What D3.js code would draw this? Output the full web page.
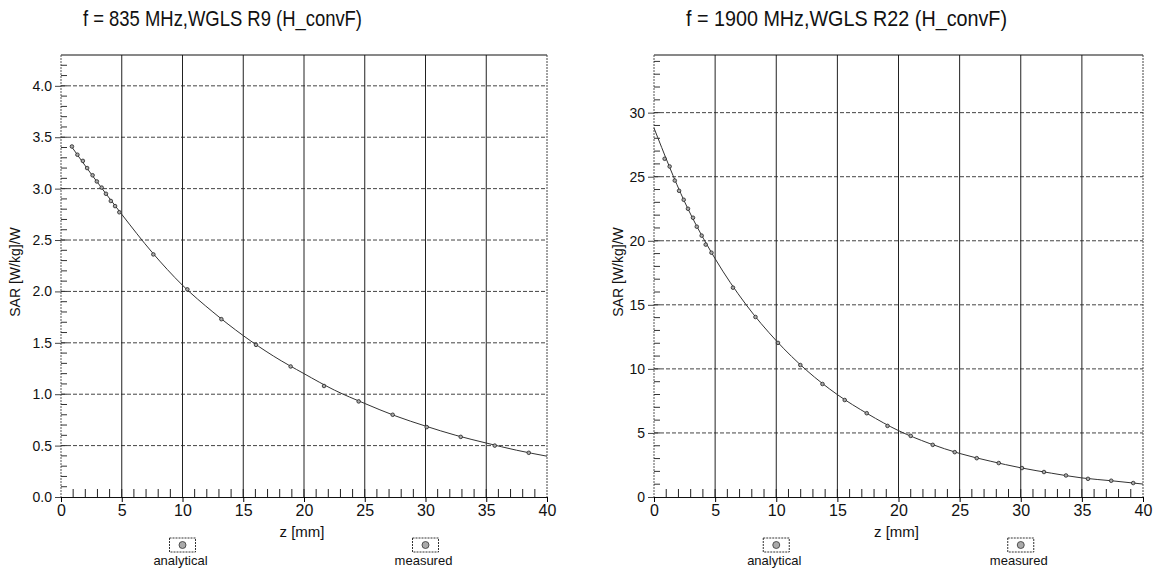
<!DOCTYPE html>
<html lang="en">
<head>
  <meta charset="UTF-8">
  <title>SAR versus depth, H_convF</title>
  <script src="https://d3js.org/d3.v7.min.js"></script>
  <style>
    body { margin: 0; background: #fff; }
    svg text {
      font-family: "Liberation Sans Narrow", "Arial Narrow", "Liberation Sans", Arial, sans-serif;
      fill: #111;
    }
  </style>
</head>
<body>
<svg id="chart" width="1158" height="576"></svg>
<script>
  // shared x axis
  const xTicks = [0, 5, 10, 15, 20, 25, 30, 35, 40];
  const legendLabels = ["analytical", "measured"];

  // 835 MHz panel
  const title835 = "f = 835 MHz,WGLS R9 (H_convF)";
  const yTicks835 = [0, 0.5, 1.0, 1.5, 2.0, 2.5, 3.0, 3.5, 4.0];
  const zAnalytical835 = [0.8, 2.5, 5, 7.5, 10, 12.5, 15, 17.5, 20, 22.5, 25, 27.5, 30, 32.5, 35, 37.5, 40];
  const sarAnalytical835 = [3.42, 3.14, 2.75, 2.38, 2.06, 1.80, 1.57, 1.37, 1.20, 1.04, 0.91, 0.79, 0.69, 0.60, 0.525, 0.455, 0.397];
  const zMeasured835 = [0.9, 1.35, 1.8, 2.15, 2.6, 2.95, 3.35, 3.7, 4.1, 4.45, 4.8, 7.6, 10.4, 13.2, 16.05, 18.9, 21.65, 24.5, 27.3, 30.1, 32.9, 35.7, 38.5];
  const sarMeasured835 = [3.41, 3.33, 3.27, 3.20, 3.13, 3.07, 3.01, 2.95, 2.88, 2.83, 2.77, 2.36, 2.02, 1.73, 1.48, 1.27, 1.08, 0.93, 0.80, 0.68, 0.585, 0.50, 0.43];

  // 1900 MHz panel
  const title1900 = "f = 1900 MHz,WGLS R22 (H_convF)";
  const yTicks1900 = [0, 5, 10, 15, 20, 25, 30];
  const zAnalytical1900 = [0, 2.5, 5, 7.5, 10, 12.5, 15, 17.5, 20, 22.5, 25, 27.5, 30, 32.5, 35, 37.5, 40];
  const sarAnalytical1900 = [28.8, 23.05, 18.6, 15.05, 12.2, 9.87, 7.99, 6.48, 5.18, 4.19, 3.40, 2.80, 2.28, 1.86, 1.49, 1.26, 1.01];
  const zMeasured1900 = [0.87, 1.28, 1.7, 2.05, 2.43, 2.78, 3.19, 3.5, 3.9, 4.23, 4.7, 6.46, 8.3, 10.14, 11.97, 13.78, 15.6, 17.4, 19.1, 21.0, 22.8, 24.6, 26.4, 28.2, 30.1, 31.9, 33.7, 35.5, 37.4, 39.2];
  const sarMeasured1900 = [26.4, 25.8, 24.7, 23.9, 23.2, 22.5, 21.8, 21.1, 20.4, 19.7, 19.07, 16.34, 14.05, 12.03, 10.3, 8.82, 7.57, 6.54, 5.55, 4.77, 4.07, 3.50, 3.03, 2.65, 2.26, 1.95, 1.68, 1.42, 1.27, 1.09];

  const panels = [
    { title: title835, titleX: 83, titleW: 279, x0: 61, x1: 547, yMax: 4.3, minorStep: 0.1,
      yTicks: yTicks835, fmt: d3.format(".1f"), labelX: 20,
      za: zAnalytical835, va: sarAnalytical835, zm: zMeasured835, vm: sarMeasured835 },
    { title: title1900, titleX: 686, titleW: 321, x0: 654, x1: 1143, yMax: 34.5, minorStep: 1,
      yTicks: yTicks1900, fmt: d3.format("d"), labelX: 623,
      za: zAnalytical1900, va: sarAnalytical1900, zm: zMeasured1900, vm: sarMeasured1900 }
  ];

  const svg = d3.select("#chart");
  svg.append("rect").attr("width", 1158).attr("height", 576).attr("fill", "#fff");

  const plotTop = 55, plotBottom = 497;

  function drawPanel(p) {
    const x = d3.scaleLinear().domain([0, 40]).range([p.x0, p.x1]);
    const y = d3.scaleLinear().domain([0, p.yMax]).range([plotBottom, plotTop]);
    const g = svg.append("g");

    g.append("text")
      .attr("x", p.titleX).attr("y", 26)
      .attr("textLength", p.titleW).attr("lengthAdjust", "spacingAndGlyphs")
      .style("font-size", "22px")
      .text(p.title);

    // horizontal grid
    g.selectAll(".hgrid").data(p.yTicks.filter(d => d > 0)).join("line")
      .attr("x1", x(0)).attr("x2", x(40))
      .attr("y1", d => y(d)).attr("y2", d => y(d))
      .attr("stroke", "#444").attr("stroke-dasharray", "4,2");

    // vertical grid
    g.selectAll(".vgrid").data(xTicks.filter(d => d > 0 && d < 40)).join("line")
      .attr("x1", d => x(d)).attr("x2", d => x(d))
      .attr("y1", plotTop).attr("y2", plotBottom)
      .attr("stroke", "#222");

    // frame
    g.append("line").attr("x1", x(0)).attr("x2", x(40)).attr("y1", plotTop).attr("y2", plotTop).attr("stroke", "#111");
    g.append("line").attr("x1", x(40)).attr("x2", x(40)).attr("y1", plotTop).attr("y2", plotBottom)
      .attr("stroke", "#444").attr("stroke-dasharray", "2,1");
    g.append("line").attr("x1", x(0)).attr("x2", x(0)).attr("y1", plotTop).attr("y2", plotBottom)
      .attr("stroke", "#555").attr("stroke-dasharray", "2,1");

    // minor ticks
    g.selectAll(".xminor").data(d3.range(1, 40)).join("line")
      .attr("x1", d => x(d)).attr("x2", d => x(d))
      .attr("y1", plotBottom).attr("y2", plotBottom - 8)
      .attr("stroke", "#222");
    g.selectAll(".yminor").data(d3.range(p.minorStep, p.yMax, p.minorStep)).join("line")
      .attr("x1", x(0)).attr("x2", x(0) + 6)
      .attr("y1", d => y(d)).attr("y2", d => y(d))
      .attr("stroke", "#333");

    // axes
    const yAxis = g.append("g").attr("transform", `translate(${x(0)},0)`)
      .call(d3.axisLeft(y).tickValues(p.yTicks).tickFormat(p.fmt).tickSize(6).tickPadding(3));
    yAxis.select(".domain").remove();
    yAxis.selectAll("text").style("font-size", "14px");
    yAxis.selectAll("line").attr("stroke", "#444");

    const xAxis = g.append("g").attr("transform", `translate(0,${plotBottom})`)
      .call(d3.axisBottom(x).tickValues(xTicks).tickSize(5).tickPadding(3));
    xAxis.select(".domain").attr("stroke", "#111");
    xAxis.selectAll("text").style("font-size", "16px");

    g.append("text")
      .attr("x", (p.x0 + p.x1) / 2 - 2).attr("y", 537)
      .attr("text-anchor", "middle").style("font-size", "15px")
      .text("z [mm]");

    g.append("text")
      .attr("transform", `translate(${p.labelX},272) rotate(-90)`)
      .attr("text-anchor", "middle").style("font-size", "14px")
      .text("SAR [W/kg]/W");

    // analytical curve
    const pts = p.za.map((z, i) => [z, p.va[i]]);
    g.append("path").datum(pts)
      .attr("fill", "none").attr("stroke", "#333").attr("stroke-width", 1)
      .attr("d", d3.line().x(d => x(d[0])).y(d => y(d[1])).curve(d3.curveMonotoneX));

    // measured points
    g.selectAll(".meas").data(p.zm.map((z, i) => [z, p.vm[i]])).join("circle")
      .attr("cx", d => x(d[0])).attr("cy", d => y(d[1])).attr("r", 1.8)
      .attr("fill", "#aaa").attr("stroke", "#222").attr("stroke-width", 0.8);

    // legend
    [10, 30].forEach((z, i) => {
      const cx = x(z);
      g.append("rect").attr("x", cx - 13).attr("y", 538).attr("width", 26).attr("height", 14)
        .attr("fill", "#fff").attr("stroke", "#333").attr("stroke-dasharray", "2,1");
      g.append("circle").attr("cx", cx).attr("cy", 545).attr("r", 3.5)
        .attr("fill", "#aaa").attr("stroke", "#333").attr("stroke-width", 0.8);
      g.append("text").attr("x", cx - 2).attr("y", 565)
        .attr("text-anchor", "middle").style("font-size", "13px")
        .text(legendLabels[i]);
    });
  }

  panels.forEach(drawPanel);
</script>
</body>
</html>
